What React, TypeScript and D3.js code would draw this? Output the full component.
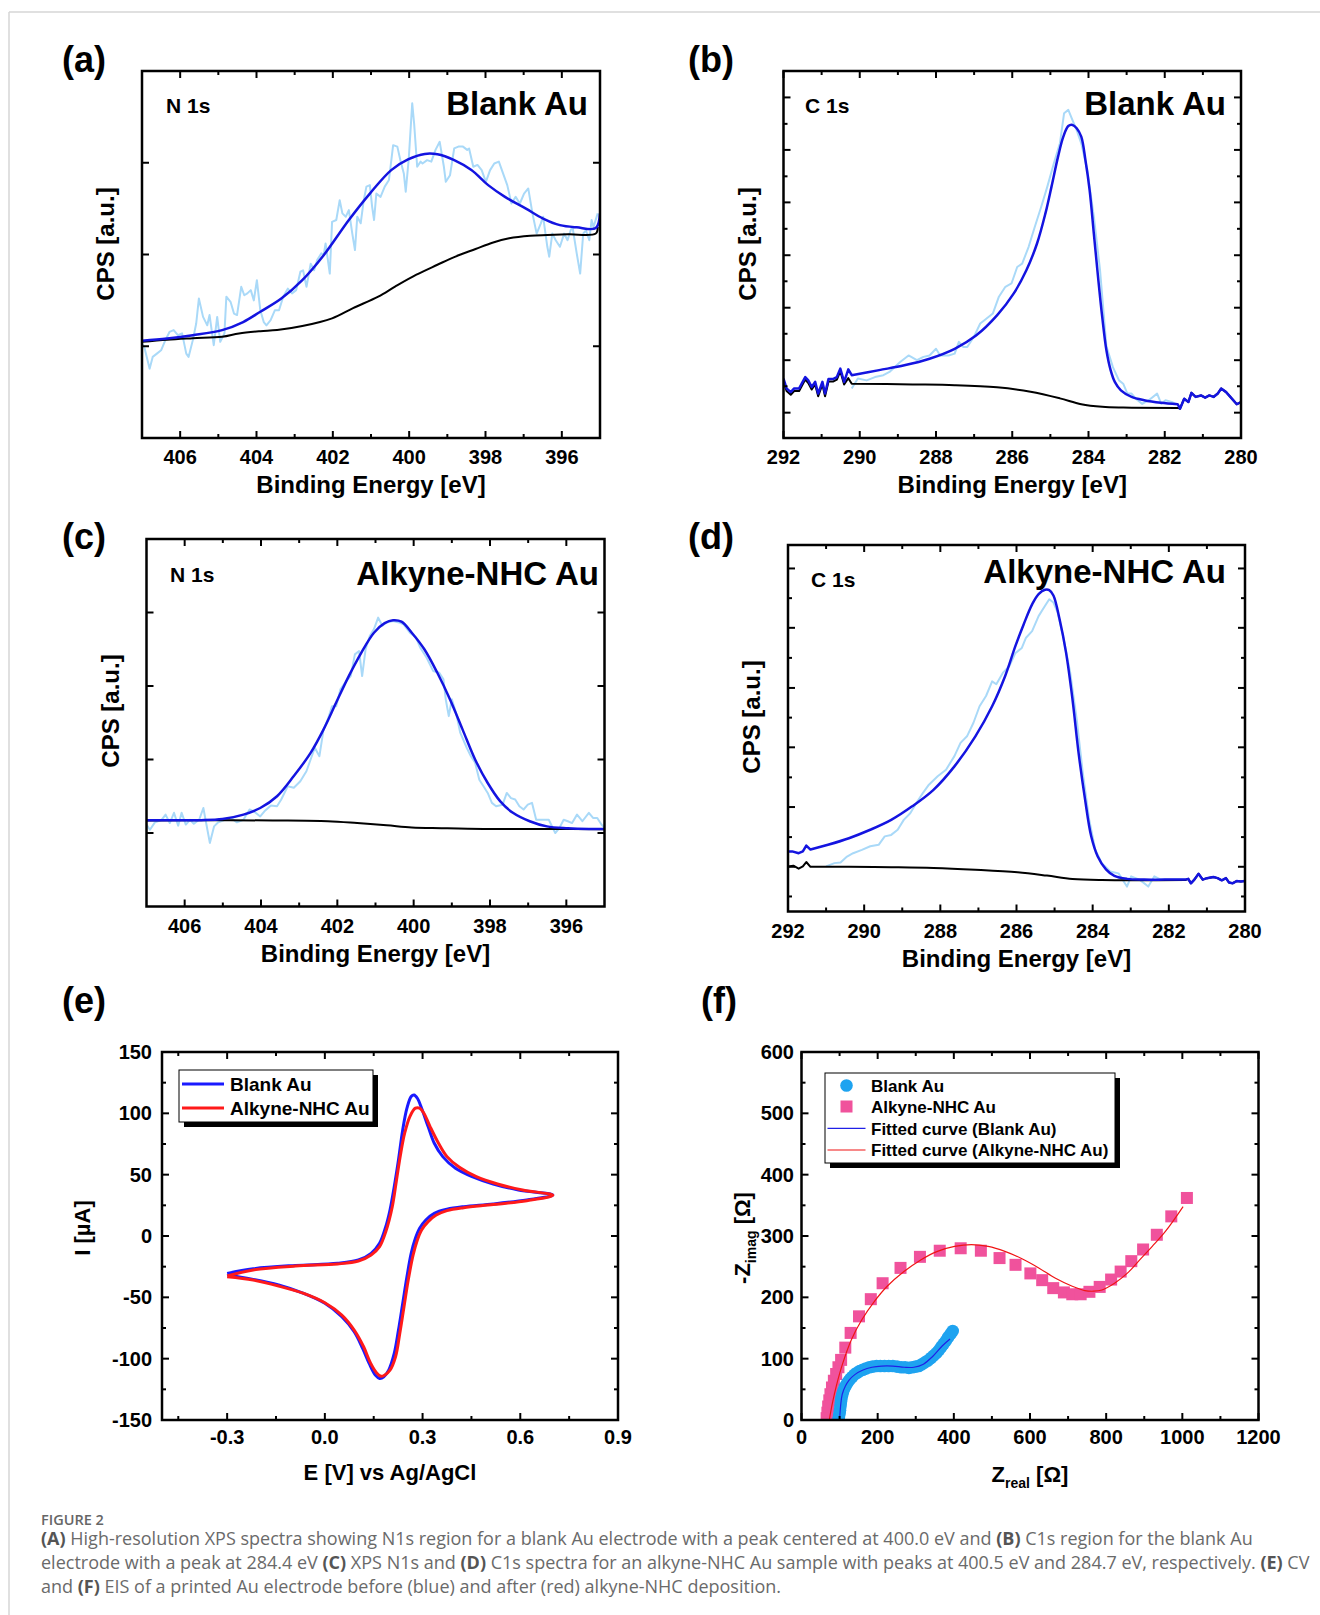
import React from 'react';
import * as d3 from 'd3';

const FONT = "'Liberation Sans', Arial, Helvetica, sans-serif";
const CAP_FONT = "'Open Sans', 'Noto Sans', sans-serif";

type P = [number, number];

// ---------- (a) N 1s, Blank Au ----------
const aRaw: P[] = [
  [407.0, 25.7], [406.94, 24.8], [406.8, 18.9], [406.72, 22.1], [406.61, 23.0], [406.5, 23.9], [406.39, 26.6], [406.28, 28.9],
  [406.17, 29.4], [406.06, 28.0], [405.95, 28.5], [405.84, 23.0], [405.78, 22.1], [405.67, 26.6], [405.58, 31.2], [405.51, 38.0],
  [405.4, 33.0], [405.29, 30.7], [405.23, 33.5], [405.12, 25.3], [405.03, 33.0], [404.95, 26.2], [404.84, 28.5], [404.79, 38.5],
  [404.68, 37.1], [404.59, 33.9], [404.51, 33.5], [404.4, 41.2], [404.32, 38.9], [404.24, 39.4], [404.15, 40.3], [404.07, 37.5],
  [403.99, 43.0], [403.9, 34.8], [403.81, 31.6], [403.74, 30.7], [403.63, 32.1], [403.52, 34.8], [403.41, 34.8], [403.3, 38.5],
  [403.18, 40.7], [403.07, 39.4], [402.96, 40.3], [402.85, 45.3], [402.78, 45.7], [402.69, 41.2], [402.58, 47.5], [402.49, 45.7],
  [402.41, 48.5], [402.3, 50.3], [402.24, 49.8], [402.19, 53.0], [402.08, 44.8], [402.02, 58.9], [401.91, 59.4], [401.82, 64.8],
  [401.75, 61.2], [401.66, 60.3], [401.58, 62.1], [401.49, 55.7], [401.42, 51.2], [401.36, 60.3], [401.27, 58.5], [401.19, 64.8],
  [401.12, 68.5], [401.03, 68.9], [400.97, 63.0], [400.92, 59.4], [400.86, 66.6], [400.75, 65.7], [400.64, 68.5], [400.53, 70.3],
  [400.42, 79.8], [400.31, 79.4], [400.23, 75.7], [400.14, 72.1], [400.09, 67.1], [400.01, 76.2], [399.92, 91.2], [399.87, 85.7],
  [399.79, 73.9], [399.7, 75.3], [399.65, 74.8], [399.53, 75.7], [399.42, 75.3], [399.31, 78.5], [399.2, 80.7], [399.09, 73.9],
  [399.04, 69.8], [398.93, 71.6], [398.82, 78.9], [398.71, 79.4], [398.59, 79.4], [398.48, 78.5], [398.43, 78.9], [398.32, 73.9],
  [398.21, 74.4], [398.1, 73.0], [397.99, 69.8], [397.88, 73.0], [397.77, 74.8], [397.65, 75.3], [397.54, 72.1], [397.43, 68.9],
  [397.32, 63.9], [397.21, 65.7], [397.1, 63.9], [396.99, 66.6], [396.88, 68.0], [396.77, 61.2], [396.66, 55.7], [396.55, 58.5],
  [396.49, 60.3], [396.38, 52.1], [396.33, 49.4], [396.25, 55.7], [396.16, 53.9], [396.05, 52.1], [395.94, 55.7], [395.85, 53.9],
  [395.77, 56.6], [395.72, 57.5], [395.61, 50.3], [395.52, 44.8], [395.44, 55.7], [395.37, 56.6], [395.28, 53.9], [395.22, 59.4],
  [395.17, 57.5], [395.06, 61.2],
];
const aFit: P[] = [
  [407.0, 26.5], [406.34, 27.1], [405.67, 28.0], [404.9, 29.4], [404.35, 31.6], [403.9, 34.4], [403.35, 38.0], [402.8, 43.0],
  [402.24, 49.8], [401.58, 59.4], [401.03, 66.6], [400.47, 73.0], [400.03, 75.9], [399.59, 77.4], [399.26, 77.3], [398.82, 75.7],
  [398.37, 73.0], [397.93, 68.9], [397.49, 65.7], [396.94, 62.5], [396.49, 59.8], [396.05, 58.0], [395.61, 57.4], [395.11, 57.2],
  [395.0, 61.2],
];
const aBg: P[] = [
  [407.0, 26.2], [406.34, 26.8], [405.67, 27.2], [404.9, 27.6], [404.46, 28.5], [403.9, 29.1], [403.46, 29.4], [402.8, 30.5],
  [402.02, 32.6], [401.47, 35.4], [400.81, 38.5], [400.36, 41.3], [399.81, 44.5], [399.26, 47.2], [398.82, 49.3], [398.26, 51.5],
  [397.82, 53.2], [397.38, 54.4], [396.83, 55.1], [396.38, 55.3], [395.83, 55.5], [395.11, 55.7], [395.06, 57.5],
];

// ---------- (b) C 1s, Blank Au ----------
const bEdgeLeftFit: P[] = [
  [292.0, 16.2], [291.92, 13.5], [291.81, 12.5], [291.72, 13.5], [291.59, 13.5], [291.43, 16.6], [291.35, 15.7], [291.26, 13.9],
  [291.17, 15.3], [291.09, 12.1], [290.98, 15.3], [290.91, 12.1], [290.82, 16.1], [290.69, 16.1], [290.6, 16.6], [290.51, 18.9],
  [290.41, 15.3], [290.3, 18.7],
];
const bEdgeLeftBg: P[] = [
  [292.0, 15.6], [291.92, 12.8], [291.81, 11.8], [291.72, 12.8], [291.59, 12.8], [291.43, 15.9], [291.35, 15.0], [291.26, 13.2],
  [291.17, 14.6], [291.09, 11.4], [290.98, 14.6], [290.91, 11.4], [290.82, 15.4], [290.69, 15.4], [290.6, 15.9], [290.51, 18.2],
  [290.41, 14.6], [290.3, 16.3],
];
const bEdgeRight: P[] = [
  [281.6, 8.0], [281.49, 10.7], [281.38, 9.8], [281.3, 12.3], [281.19, 11.2], [281.05, 11.6], [280.94, 11.0], [280.83, 11.6],
  [280.72, 11.2], [280.61, 12.1], [280.52, 13.5], [280.39, 12.5], [280.28, 11.2], [280.11, 9.2], [280.0, 9.8],
];
const bFit: P[] = [
  [290.21, 17.1], [289.49, 18.5], [288.83, 19.8], [288.17, 21.6], [287.51, 24.3], [286.95, 27.9], [286.4, 33.4], [285.96, 39.4],
  [285.63, 45.7], [285.35, 53.0], [285.13, 61.2], [284.97, 68.5], [284.8, 76.6], [284.66, 82.1], [284.53, 85.0], [284.42, 85.3],
  [284.31, 84.4], [284.19, 82.1], [284.08, 75.7], [283.97, 67.5], [283.86, 55.7], [283.75, 43.9], [283.64, 33.0], [283.53, 23.9],
  [283.42, 18.5], [283.31, 15.3], [283.15, 13.0], [282.87, 11.2], [282.54, 10.3], [282.1, 9.6], [281.66, 9.2],
];
const bBg: P[] = [
  [290.21, 14.8], [288.61, 14.6], [287.51, 14.4], [286.4, 13.8], [285.52, 12.6], [284.75, 10.8], [284.19, 9.2], [283.64, 8.5],
  [283.09, 8.3], [281.66, 8.2],
];
const bRaw: P[] = [
  [290.21, 13.5], [290.05, 16.2], [289.82, 15.7], [289.6, 16.6], [289.38, 17.1], [289.22, 18.0], [288.94, 20.7], [288.72, 22.5],
  [288.5, 21.2], [288.33, 22.1], [288.17, 22.5], [288.0, 24.3], [287.89, 22.5], [287.67, 22.5], [287.51, 23.0], [287.4, 26.2],
  [287.29, 24.8], [287.18, 24.8], [287.01, 27.5], [286.84, 31.2], [286.73, 32.1], [286.51, 33.9], [286.35, 38.5], [286.18, 41.2],
  [286.02, 42.1], [285.87, 46.6], [285.74, 47.5], [285.57, 52.1], [285.41, 57.5], [285.24, 63.0], [285.08, 68.5], [284.91, 74.8],
  [284.75, 80.3], [284.64, 88.5], [284.53, 89.4], [284.42, 86.6], [284.31, 83.9], [284.19, 80.3], [284.03, 73.0], [283.86, 60.3],
  [283.7, 46.0], [283.53, 25.0], [283.36, 19.3], [283.2, 15.7], [283.09, 14.8], [282.98, 12.1], [282.87, 12.1], [282.76, 10.7],
  [282.59, 9.3], [282.42, 10.3], [282.2, 12.1], [282.09, 9.3], [281.98, 10.3], [281.82, 9.8], [281.71, 9.3],
];
const bYMajor = [6.9, 21.2, 35.5, 49.8, 64.2, 78.5, 92.8];
const bYMinor = [14.1, 28.4, 42.7, 57.0, 71.3, 85.6];

// ---------- (c) N 1s, Alkyne-NHC Au ----------
const cRaw: P[] = [
  [407.0, 22.3], [406.91, 20.9], [406.78, 22.9], [406.61, 23.5], [406.5, 25.0], [406.39, 22.7], [406.28, 25.5], [406.17, 22.0],
  [406.08, 25.5], [405.97, 22.3], [405.86, 23.6], [405.76, 22.5], [405.62, 23.6], [405.51, 26.8], [405.43, 22.3], [405.34, 17.3],
  [405.23, 21.8], [405.12, 22.9], [404.96, 23.5], [404.79, 24.1], [404.63, 22.9], [404.46, 23.6], [404.3, 26.4], [404.19, 25.9],
  [404.02, 24.5], [403.91, 25.9], [403.74, 27.5], [403.58, 27.3], [403.47, 29.1], [403.3, 32.7], [403.14, 32.3], [402.97, 34.1],
  [402.81, 36.8], [402.7, 40.0], [402.59, 43.2], [402.47, 40.9], [402.36, 48.2], [402.25, 50.9], [402.14, 54.5], [402.03, 54.5],
  [401.92, 59.1], [401.76, 61.4], [401.65, 62.7], [401.54, 68.6], [401.43, 69.5], [401.35, 62.7], [401.26, 70.0], [401.15, 73.6],
  [401.04, 75.5], [400.93, 78.6], [400.82, 76.4], [400.71, 77.3], [400.54, 77.7], [400.38, 77.3], [400.27, 76.8], [400.1, 74.5],
  [399.94, 73.2], [399.83, 70.5], [399.66, 67.7], [399.49, 64.1], [399.33, 63.6], [399.22, 61.8], [399.16, 56.4], [399.08, 51.8],
  [399.0, 56.4], [398.89, 52.7], [398.78, 47.3], [398.61, 43.2], [398.5, 40.9], [398.39, 39.1], [398.28, 34.5], [398.17, 32.7],
  [398.06, 30.9], [397.95, 28.2], [397.84, 27.3], [397.67, 27.7], [397.56, 30.9], [397.45, 29.5], [397.34, 29.1], [397.23, 27.3],
  [397.12, 26.4], [397.01, 27.7], [396.9, 28.2], [396.79, 23.6], [396.62, 23.6], [396.46, 23.6], [396.29, 20.0], [396.18, 21.4],
  [396.07, 23.6], [395.96, 23.2], [395.85, 22.7], [395.72, 25.0], [395.58, 23.2], [395.41, 25.5], [395.3, 24.1], [395.19, 24.1],
  [395.08, 22.3], [395.0, 21.4],
];
const cFit: P[] = [
  [407.0, 23.5], [406.23, 23.5], [405.57, 23.5], [405.01, 23.8], [404.46, 25.0], [404.02, 26.8], [403.58, 30.0], [403.14, 35.5],
  [402.7, 41.8], [402.36, 48.2], [402.03, 55.5], [401.7, 62.7], [401.37, 69.1], [401.04, 74.5], [400.76, 77.1], [400.54, 77.9],
  [400.32, 77.5], [400.05, 74.5], [399.72, 70.0], [399.38, 63.6], [399.05, 56.4], [398.72, 48.2], [398.39, 40.0], [398.06, 33.6],
  [397.73, 28.6], [397.4, 25.5], [396.96, 23.2], [396.51, 21.8], [395.96, 21.3], [395.41, 21.1], [395.0, 21.1],
];
const cBg: P[] = [
  [407.0, 23.4], [405.34, 23.5], [403.69, 23.4], [402.25, 23.2], [401.48, 22.7], [400.71, 22.1], [400.05, 21.5], [399.27, 21.3],
  [398.17, 21.1], [396.51, 21.1], [395.0, 21.0],
];

// ---------- (d) C 1s, Alkyne-NHC Au ----------
const dEdgeLeftFit: P[] = [[292.0, 16.4], [291.89, 16.4], [291.72, 15.9], [291.61, 16.4], [291.52, 18.0], [291.41, 16.9]];
const dEdgeLeftBg: P[] = [[292.0, 12.3], [291.86, 12.5], [291.72, 11.7], [291.61, 12.3], [291.52, 13.5], [291.41, 12.2]];
const dEdgeRight: P[] = [
  [281.49, 8.9], [281.42, 7.7], [281.33, 8.7], [281.22, 10.3], [281.11, 8.7], [281.0, 9.1], [280.83, 9.4], [280.72, 9.1],
  [280.61, 8.5], [280.5, 9.1], [280.42, 7.9], [280.33, 7.7], [280.22, 8.3], [280.11, 8.2], [280.0, 8.3],
];
const dFit: P[] = [
  [290.95, 18.2], [290.4, 20.0], [289.84, 22.3], [289.29, 25.0], [288.74, 28.7], [288.18, 33.2], [287.63, 39.6], [287.08, 47.8],
  [286.64, 56.0], [286.3, 64.2], [286.03, 72.4], [285.81, 78.4], [285.59, 83.8], [285.42, 86.6], [285.25, 87.8], [285.14, 87.7],
  [285.03, 86.2], [284.87, 79.8], [284.7, 70.7], [284.53, 57.9], [284.37, 43.3], [284.2, 30.6], [284.04, 20.6], [283.87, 15.1],
  [283.65, 11.5], [283.43, 9.7], [283.1, 8.9], [282.65, 8.7], [282.1, 8.7], [281.57, 8.7],
];
const dBg: P[] = [
  [290.4, 12.2], [289.29, 12.1], [288.18, 11.9], [287.08, 11.4], [285.97, 10.7], [285.2, 9.8], [284.53, 8.9], [283.76, 8.6],
  [281.57, 8.6],
];
const dRaw: P[] = [
  [291.0, 12.3], [290.78, 13.2], [290.62, 13.4], [290.45, 15.0], [290.29, 15.9], [290.06, 16.8], [289.84, 17.8], [289.62, 18.2],
  [289.46, 20.5], [289.29, 20.9], [289.12, 22.3], [288.96, 25.0], [288.79, 26.8], [288.63, 29.6], [288.46, 32.3], [288.3, 34.6],
  [288.07, 36.9], [287.85, 38.7], [287.63, 42.4], [287.47, 46.0], [287.3, 47.8], [287.13, 51.5], [286.97, 56.0], [286.8, 58.8],
  [286.64, 62.8], [286.53, 62.0], [286.36, 65.1], [286.19, 66.9], [286.03, 70.5], [285.86, 71.9], [285.75, 74.7], [285.59, 76.5],
  [285.42, 80.6], [285.25, 83.4], [285.14, 85.2], [285.03, 84.3], [284.92, 81.6], [284.76, 74.3], [284.59, 65.2], [284.42, 52.5],
  [284.26, 37.9], [284.09, 25.0], [283.93, 16.8], [283.76, 13.2], [283.54, 10.9], [283.32, 10.4], [283.1, 6.8], [282.99, 9.6],
  [282.77, 8.7], [282.54, 6.8], [282.38, 9.6], [282.21, 8.7], [281.99, 8.7], [281.77, 8.7], [281.57, 8.7],
];
const dYMajor = [12.2, 28.5, 44.8, 61.0, 77.4, 93.6];
const dYMinor = [4.1, 20.3, 36.6, 52.9, 69.2, 85.5];

// ---------- (e) CV ----------
const cvBlank: P[] = [
  [-0.3, -30.5], [-0.22, -26.7], [-0.09, -24.0], [0.039, -22.3], [0.103, -19.6], [0.142, -14.1], [0.168, -6.0], [0.187, 7.6],
  [0.2, 21.2], [0.213, 40.2], [0.226, 62.0], [0.239, 86.5], [0.252, 104.2], [0.265, 113.7], [0.274, 115.0], [0.284, 112.3],
  [0.297, 104.2], [0.317, 89.2], [0.336, 75.6], [0.362, 64.7], [0.401, 55.2], [0.452, 48.4], [0.517, 42.4], [0.594, 37.5],
  [0.7, 33.4], [0.62, 29.4], [0.517, 26.1], [0.426, 23.9], [0.375, 21.8], [0.336, 18.5], [0.31, 13.1], [0.291, 6.3],
  [0.278, -1.9], [0.265, -14.1], [0.252, -33.2], [0.239, -55.0], [0.226, -76.7], [0.213, -95.7], [0.196, -109.3], [0.181, -114.8],
  [0.168, -116.1], [0.155, -113.4], [0.136, -103.9], [0.116, -91.6], [0.09, -78.0], [0.052, -65.8], [0.0, -54.9], [-0.065, -46.8],
  [-0.142, -40.0], [-0.22, -35.4], [-0.3, -31.8],
];
const cvAlkyne: P[] = [
  [-0.3, -32.6], [-0.22, -27.7], [-0.09, -24.5], [0.039, -22.8], [0.103, -20.4], [0.142, -15.5], [0.168, -8.7], [0.187, 3.5],
  [0.207, 23.9], [0.22, 45.7], [0.233, 67.5], [0.245, 83.8], [0.261, 97.4], [0.278, 104.2], [0.291, 104.2], [0.304, 100.1],
  [0.323, 89.2], [0.349, 75.6], [0.375, 64.7], [0.413, 56.0], [0.465, 48.4], [0.53, 42.4], [0.607, 37.5], [0.7, 33.2],
  [0.62, 28.8], [0.517, 25.6], [0.426, 23.1], [0.375, 20.7], [0.342, 17.1], [0.317, 11.7], [0.297, 4.9], [0.284, -3.3],
  [0.271, -15.5], [0.256, -35.9], [0.243, -57.7], [0.23, -79.5], [0.217, -98.5], [0.2, -109.4], [0.183, -113.5], [0.172, -114.3],
  [0.159, -111.6], [0.14, -103.4], [0.119, -90.3], [0.09, -76.7], [0.052, -64.5], [0.0, -54.4], [-0.065, -46.8], [-0.142, -40.8],
  [-0.22, -35.9], [-0.3, -33.2],
];
const cvXTicks = [-0.3, 0.0, 0.3, 0.6, 0.9];
const cvXMinor = [-0.45, -0.15, 0.15, 0.45, 0.75];
const cvYTicks = [-150, -100, -50, 0, 50, 100, 150];
const cvYMinor = [-125, -75, -25, 25, 75, 125];

// ---------- (f) EIS ----------
const eisBlank: P[] = [
  [97, 0], [98, 4], [99, 8], [100, 12], [101, 16], [102, 21], [103, 26], [104, 31], [105, 36], [107, 41], [109, 46], [112, 51],
  [115, 55], [119, 59], [123, 63], [128, 67], [133, 70], [139, 74], [146, 77], [153, 80], [161, 82], [169, 84], [178, 86],
  [187, 87], [197, 88], [207, 88], [218, 88], [229, 88], [240, 88], [251, 87], [262, 86], [272, 86], [282, 85], [291, 86],
  [300, 87], [308, 88], [316, 91], [324, 94], [332, 97], [340, 101], [347, 105], [354, 109], [361, 114], [367, 119], [373, 124],
  [379, 129], [385, 135], [391, 140], [397, 145],
];
const eisAlkyne: P[] = [
  [66, 3], [68, 12], [70, 22], [73, 32], [76, 42], [80, 53], [85, 64], [91, 75], [97, 86], [104, 98], [115, 118], [129, 142],
  [151, 169], [182, 197], [213, 223], [260, 248], [311, 266], [363, 276], [418, 280], [471, 276], [520, 264], [562, 253],
  [601, 239], [632, 228], [661, 215], [689, 208], [711, 205], [733, 205], [756, 209], [783, 217], [813, 229], [838, 242],
  [866, 259], [897, 278], [933, 302], [971, 332], [1012, 362],
];
const eisFitBlank: P[] = [
  [100, 0], [103, 25], [107, 42], [115, 55], [125, 65], [140, 74], [160, 81], [185, 86], [210, 88], [240, 88], [270, 86],
  [295, 86], [320, 91], [345, 104], [370, 121], [390, 132],
];
const eisFitAlkyne: P[] = [
  [73, 0], [81, 27], [92, 57], [108, 92], [131, 131], [158, 163], [191, 193], [225, 218], [269, 242], [313, 261], [357, 275],
  [402, 283], [446, 286], [490, 283], [534, 275], [579, 263], [623, 248], [667, 231], [711, 218], [744, 211], [767, 210],
  [789, 212], [822, 223], [855, 239], [888, 261], [921, 283], [955, 307], [1002, 348],
];
const eisXTicks = [0, 200, 400, 600, 800, 1000, 1200];
const eisXMinor = [100, 300, 500, 700, 900, 1100];
const eisYTicks = [0, 100, 200, 300, 400, 500, 600];
const eisYMinor = [50, 150, 250, 350, 450, 550];

const xpsNXMajor = [406, 404, 402, 400, 398, 396];
const xpsNXMinor = [405, 403, 401, 399, 397];
const xpsCXMajor = [292, 290, 288, 286, 284, 282, 280];
const xpsCXMinor = [291, 289, 287, 285, 283, 281];

const FIT_BLUE = '#1414e0';
const RAW_BLUE = '#a9d9f8';

type Frame = { x0: number; x1: number; y0: number; y1: number };

function TickMarks({ x, y, f, xMajor, xMinor, yMajor, yMinor }: any) {
  const M = 7, m = 4;
  const out: any[] = [];
  const add = (k: string, x1: number, y1: number, x2: number, y2: number) =>
    out.push(<line key={k} x1={x1} y1={y1} x2={x2} y2={y2} stroke="#000" strokeWidth={2} />);
  xMajor.forEach((v: number, i: number) => {
    const px = x(v);
    add('xb' + i, px, f.y1, px, f.y1 - M);
    add('xt' + i, px, f.y0, px, f.y0 + M);
  });
  xMinor.forEach((v: number, i: number) => {
    const px = x(v);
    add('xbm' + i, px, f.y1, px, f.y1 - m);
    add('xtm' + i, px, f.y0, px, f.y0 + m);
  });
  yMajor.forEach((v: number, i: number) => {
    const py = y(v);
    add('yl' + i, f.x0, py, f.x0 + M, py);
    add('yr' + i, f.x1, py, f.x1 - M, py);
  });
  yMinor.forEach((v: number, i: number) => {
    const py = y(v);
    add('ylm' + i, f.x0, py, f.x0 + m, py);
    add('yrm' + i, f.x1, py, f.x1 - m, py);
  });
  return <g>{out}</g>;
}

function XpsPanel(props: any) {
  const { f, xDomain, xMajor, xMinor, yMajor, yMinor, raw, fitParts, bgParts, letter, letterX, letterY,
    core, coreX, coreY, title, titleX, titleY, yTitleX, yTitleY, tickBase, axisBase, clipId } = props;
  const x = d3.scaleLinear().domain(xDomain).range([f.x0, f.x1]);
  const y = d3.scaleLinear().domain([0, 100]).range([f.y1, f.y0]);
  const rawLine = d3.line<P>().x(d => x(d[0])).y(d => y(d[1]));
  const smooth = d3.line<P>().x(d => x(d[0])).y(d => y(d[1])).curve(d3.curveCatmullRom.alpha(0.5));
  // join the parts into one continuous path (later parts start with L instead of M)
  const pathOf = (parts: { data: P[]; smooth: boolean }[]) =>
    parts
      .map((p, i) => {
        const s = (p.smooth ? smooth(p.data) : rawLine(p.data)) || '';
        return i === 0 ? s : 'L' + s.slice(1);
      })
      .join('');
  return (
    <g>
      <defs>
        <clipPath id={clipId}>
          <rect x={f.x0} y={f.y0} width={f.x1 - f.x0} height={f.y1 - f.y0} />
        </clipPath>
      </defs>
      <g clipPath={`url(#${clipId})`}>
        <path d={rawLine(raw) || ''} fill="none" stroke={RAW_BLUE} strokeWidth={2} strokeLinejoin="round" />
        <path d={pathOf(bgParts)} fill="none" stroke="#000" strokeWidth={2} strokeLinejoin="round" />
        <path d={pathOf(fitParts)} fill="none" stroke={FIT_BLUE} strokeWidth={2.5} strokeLinejoin="round" />
      </g>
      <TickMarks x={x} y={y} f={f} xMajor={xMajor} xMinor={xMinor} yMajor={yMajor} yMinor={yMinor} />
      <rect x={f.x0} y={f.y0} width={f.x1 - f.x0} height={f.y1 - f.y0} fill="none" stroke="#000" strokeWidth={2.5} />
      {xMajor.map((v: number) => (
        <text key={'l' + v} x={x(v)} y={f.y1 + tickBase} textAnchor="middle" fontSize={20} fontWeight="bold" fontFamily={FONT}>
          {v}
        </text>
      ))}
      <text x={(f.x0 + f.x1) / 2} y={f.y1 + axisBase} textAnchor="middle" fontSize={24} fontWeight="bold" fontFamily={FONT}>
        Binding Energy [eV]
      </text>
      <text transform={`translate(${yTitleX},${yTitleY}) rotate(-90)`} textAnchor="middle" fontSize={24} fontWeight="bold" fontFamily={FONT}>
        CPS [a.u.]
      </text>
      <text x={letterX} y={letterY} fontSize={36} fontWeight="bold" fontFamily={FONT}>{letter}</text>
      <text x={coreX} y={coreY} fontSize={21} fontWeight="bold" fontFamily={FONT}>{core}</text>
      <text x={titleX} y={titleY} textAnchor="end" fontSize={33} fontWeight="bold" fontFamily={FONT}>{title}</text>
    </g>
  );
}

const fmtTick = (v: number) => (v < 0 ? '-' : '') + Math.abs(v).toFixed(1);

function CvPanel() {
  const f: Frame = { x0: 162, x1: 618, y0: 1052, y1: 1420 };
  const x = d3.scaleLinear().domain([-0.5, 0.9]).range([f.x0, f.x1]);
  const y = d3.scaleLinear().domain([-150, 150]).range([f.y1, f.y0]);
  const line = d3.line<P>().x(d => x(d[0])).y(d => y(d[1])).curve(d3.curveCatmullRom.alpha(0.5));
  return (
    <g>
      <path d={line(cvBlank) || ''} fill="none" stroke="#1a1aff" strokeWidth={3} strokeLinejoin="round" />
      <path d={line(cvAlkyne) || ''} fill="none" stroke="#ff1a1a" strokeWidth={3} strokeLinejoin="round" />
      <TickMarks x={x} y={y} f={f} xMajor={cvXTicks} xMinor={cvXMinor} yMajor={cvYTicks} yMinor={cvYMinor} />
      <rect x={f.x0} y={f.y0} width={f.x1 - f.x0} height={f.y1 - f.y0} fill="none" stroke="#000" strokeWidth={2.5} />
      {cvXTicks.map(v => (
        <text key={'x' + v} x={x(v)} y={f.y1 + 24} textAnchor="middle" fontSize={20} fontWeight="bold" fontFamily={FONT}>
          {fmtTick(v)}
        </text>
      ))}
      {cvYTicks.map(v => (
        <text key={'y' + v} x={152} y={y(v) + 7} textAnchor="end" fontSize={20} fontWeight="bold" fontFamily={FONT}>
          {v < 0 ? '-' + Math.abs(v) : String(v)}
        </text>
      ))}
      <text x={(f.x0 + f.x1) / 2} y={1480} textAnchor="middle" fontSize={22} fontWeight="bold" fontFamily={FONT}>
        E [V] vs Ag/AgCl
      </text>
      <text transform={`translate(90,1228) rotate(-90)`} textAnchor="middle" fontSize={22} fontWeight="bold" fontFamily={FONT}>
        I [µA]
      </text>
      <text x={62} y={1013} fontSize={36} fontWeight="bold" fontFamily={FONT}>(e)</text>
      <rect x={184} y={1075} width={194} height={52} fill="#000" />
      <rect x={179} y={1070} width={194} height={52} fill="#fff" stroke="#000" strokeWidth={1} />
      <line x1={182} x2={224} y1={1084} y2={1084} stroke="#1a1aff" strokeWidth={3} />
      <line x1={182} x2={224} y1={1108} y2={1108} stroke="#ff1a1a" strokeWidth={3} />
      <text x={230} y={1091} fontSize={19} fontWeight="bold" fontFamily={FONT}>Blank Au</text>
      <text x={230} y={1115} fontSize={19} fontWeight="bold" fontFamily={FONT}>Alkyne-NHC Au</text>
    </g>
  );
}

function EisPanel() {
  const f: Frame = { x0: 801.5, x1: 1258.5, y0: 1052, y1: 1420 };
  const x = d3.scaleLinear().domain([0, 1200]).range([f.x0, f.x1]);
  const y = d3.scaleLinear().domain([0, 600]).range([f.y1, f.y0]);
  const line = d3.line<P>().x(d => x(d[0])).y(d => y(d[1])).curve(d3.curveCatmullRom.alpha(0.5));
  const sq = 12;
  return (
    <g>
      <defs>
        <clipPath id="clipF">
          <rect x={f.x0} y={f.y0 - 10} width={f.x1 - f.x0} height={f.y1 - f.y0 + 10} />
        </clipPath>
      </defs>
      <g clipPath="url(#clipF)">
        {eisAlkyne.map((d, i) => (
          <rect key={'s' + i} x={x(d[0]) - sq / 2} y={y(d[1]) - sq / 2} width={sq} height={sq} fill="#f0529c" />
        ))}
        {eisBlank.map((d, i) => (
          <circle key={'c' + i} cx={x(d[0])} cy={y(d[1])} r={6.3} fill="#1ea3f0" />
        ))}
        <path d={line(eisFitBlank) || ''} fill="none" stroke="#2020e6" strokeWidth={1.2} />
        <path d={line(eisFitAlkyne) || ''} fill="none" stroke="#f01414" strokeWidth={1.2} />
      </g>
      <TickMarks x={x} y={y} f={f} xMajor={eisXTicks} xMinor={eisXMinor} yMajor={eisYTicks} yMinor={eisYMinor} />
      <rect x={f.x0} y={f.y0} width={f.x1 - f.x0} height={f.y1 - f.y0} fill="none" stroke="#000" strokeWidth={2.5} />
      {eisXTicks.map(v => (
        <text key={'x' + v} x={x(v)} y={f.y1 + 24} textAnchor="middle" fontSize={20} fontWeight="bold" fontFamily={FONT}>
          {v}
        </text>
      ))}
      {eisYTicks.map(v => (
        <text key={'y' + v} x={794} y={y(v) + 7} textAnchor="end" fontSize={20} fontWeight="bold" fontFamily={FONT}>
          {v}
        </text>
      ))}
      <text x={(f.x0 + f.x1) / 2} y={1482} textAnchor="middle" fontSize={22} fontWeight="bold" fontFamily={FONT}>
        Z<tspan fontSize={14} dy={6}>real</tspan>
        <tspan dy={-6}> [Ω]</tspan>
      </text>
      <text transform={`translate(750,1238) rotate(-90)`} textAnchor="middle" fontSize={22} fontWeight="bold" fontFamily={FONT}>
        -Z<tspan fontSize={14} dy={6}>imag</tspan>
        <tspan dy={-6}> [Ω]</tspan>
      </text>
      <text x={701} y={1013} fontSize={36} fontWeight="bold" fontFamily={FONT}>(f)</text>
      <rect x={830} y={1078} width={290} height={90} fill="#000" />
      <rect x={825} y={1073} width={290} height={90} fill="#fff" stroke="#000" strokeWidth={1} />
      <circle cx={846.5} cy={1085.5} r={6.3} fill="#1ea3f0" />
      <rect x={840.5} y={1100.5} width={12} height={12} fill="#f0529c" />
      <line x1={827.5} x2={865.5} y1={1128.3} y2={1128.3} stroke="#2020e6" strokeWidth={1.2} />
      <line x1={827.5} x2={865.5} y1={1150} y2={1150} stroke="#f01414" strokeWidth={1.2} />
      <text x={871} y={1091.5} fontSize={17} fontWeight="bold" fontFamily={FONT}>Blank Au</text>
      <text x={871} y={1113} fontSize={17} fontWeight="bold" fontFamily={FONT}>Alkyne-NHC Au</text>
      <text x={871} y={1134.5} fontSize={17} fontWeight="bold" fontFamily={FONT}>Fitted curve (Blank Au)</text>
      <text x={871} y={1156} fontSize={17} fontWeight="bold" fontFamily={FONT}>Fitted curve (Alkyne-NHC Au)</text>
    </g>
  );
}

function Caption() {
  const b = (s: string) => <tspan fontWeight={700} fill="#555">{s}</tspan>;
  const common = { fontSize: 18, fontFamily: CAP_FONT, fill: '#6a6a6a' } as any;
  return (
    <g>
      <text x={41} y={1525} fontSize={14.5} fontWeight={600} fontFamily={CAP_FONT} fill="#666">FIGURE 2</text>
      <text x={41} y={1545} {...common}>
        {b('(A)')} High-resolution XPS spectra showing N1s region for a blank Au electrode with a peak centered at 400.0 eV and {b('(B)')} C1s region for the blank Au
      </text>
      <text x={41} y={1569} {...common}>
        electrode with a peak at 284.4 eV {b('(C)')} XPS N1s and {b('(D)')} C1s spectra for an alkyne-NHC Au sample with peaks at 400.5 eV and 284.7 eV, respectively. {b('(E)')} CV
      </text>
      <text x={41} y={1593} {...common}>
        and {b('(F)')} EIS of a printed Au electrode before (blue) and after (red) alkyne-NHC deposition.
      </text>
    </g>
  );
}

export default function App() {
  return (
    <svg width={1320} height={1615} viewBox="0 0 1320 1615" style={{ position: 'absolute', left: 0, top: 0, background: '#fff' }}>
      <rect x={0} y={0} width={1320} height={1615} fill="#fff" />
      <line x1={9} y1={12} x2={1320} y2={12} stroke="#d6d6d6" strokeWidth={1.5} />
      <line x1={9} y1={12} x2={9} y2={1615} stroke="#d6d6d6" strokeWidth={1.5} />
      <XpsPanel
        clipId="clipA" f={{ x0: 142, x1: 600, y0: 71, y1: 438 }} xDomain={[407, 395]}
        xMajor={xpsNXMajor} xMinor={xpsNXMinor} yMajor={[25, 50, 75]} yMinor={[]}
        raw={aRaw} fitParts={[{ data: aFit, smooth: true }]} bgParts={[{ data: aBg, smooth: true }]}
        letter="(a)" letterX={62} letterY={72} core="N 1s" coreX={166} coreY={113}
        title="Blank Au" titleX={588} titleY={115} yTitleX={114} yTitleY={244} tickBase={26} axisBase={55}
      />
      <XpsPanel
        clipId="clipB" f={{ x0: 783.5, x1: 1241, y0: 71, y1: 438 }} xDomain={[292, 280]}
        xMajor={xpsCXMajor} xMinor={xpsCXMinor} yMajor={bYMajor} yMinor={bYMinor}
        raw={bRaw}
        fitParts={[{ data: bEdgeLeftFit, smooth: false }, { data: bFit, smooth: true }, { data: bEdgeRight, smooth: false }]}
        bgParts={[{ data: bEdgeLeftBg, smooth: false }, { data: bBg, smooth: true }, { data: bEdgeRight, smooth: false }]}
        letter="(b)" letterX={688} letterY={72} core="C 1s" coreX={805} coreY={113}
        title="Blank Au" titleX={1226} titleY={115} yTitleX={756} yTitleY={244} tickBase={26} axisBase={55}
      />
      <XpsPanel
        clipId="clipC" f={{ x0: 146.5, x1: 604.5, y0: 539, y1: 906.5 }} xDomain={[407, 395]}
        xMajor={xpsNXMajor} xMinor={xpsNXMinor} yMajor={[20, 40, 60, 80]} yMinor={[]}
        raw={cRaw} fitParts={[{ data: cFit, smooth: true }]} bgParts={[{ data: cBg, smooth: true }]}
        letter="(c)" letterX={62} letterY={549} core="N 1s" coreX={170} coreY={582}
        title="Alkyne-NHC Au" titleX={599} titleY={585} yTitleX={119} yTitleY={711} tickBase={26} axisBase={55}
      />
      <XpsPanel
        clipId="clipD" f={{ x0: 788, x1: 1245, y0: 545, y1: 911.5 }} xDomain={[292, 280]}
        xMajor={xpsCXMajor} xMinor={xpsCXMinor} yMajor={dYMajor} yMinor={dYMinor}
        raw={dRaw}
        fitParts={[{ data: dEdgeLeftFit, smooth: false }, { data: dFit, smooth: true }, { data: dEdgeRight, smooth: false }]}
        bgParts={[{ data: dEdgeLeftBg, smooth: false }, { data: dBg, smooth: true }, { data: dEdgeRight, smooth: false }]}
        letter="(d)" letterX={688} letterY={549} core="C 1s" coreX={811} coreY={587}
        title="Alkyne-NHC Au" titleX={1226} titleY={583} yTitleX={760} yTitleY={717} tickBase={26} axisBase={55}
      />
      <CvPanel />
      <EisPanel />
      <Caption />
    </svg>
  );
}
